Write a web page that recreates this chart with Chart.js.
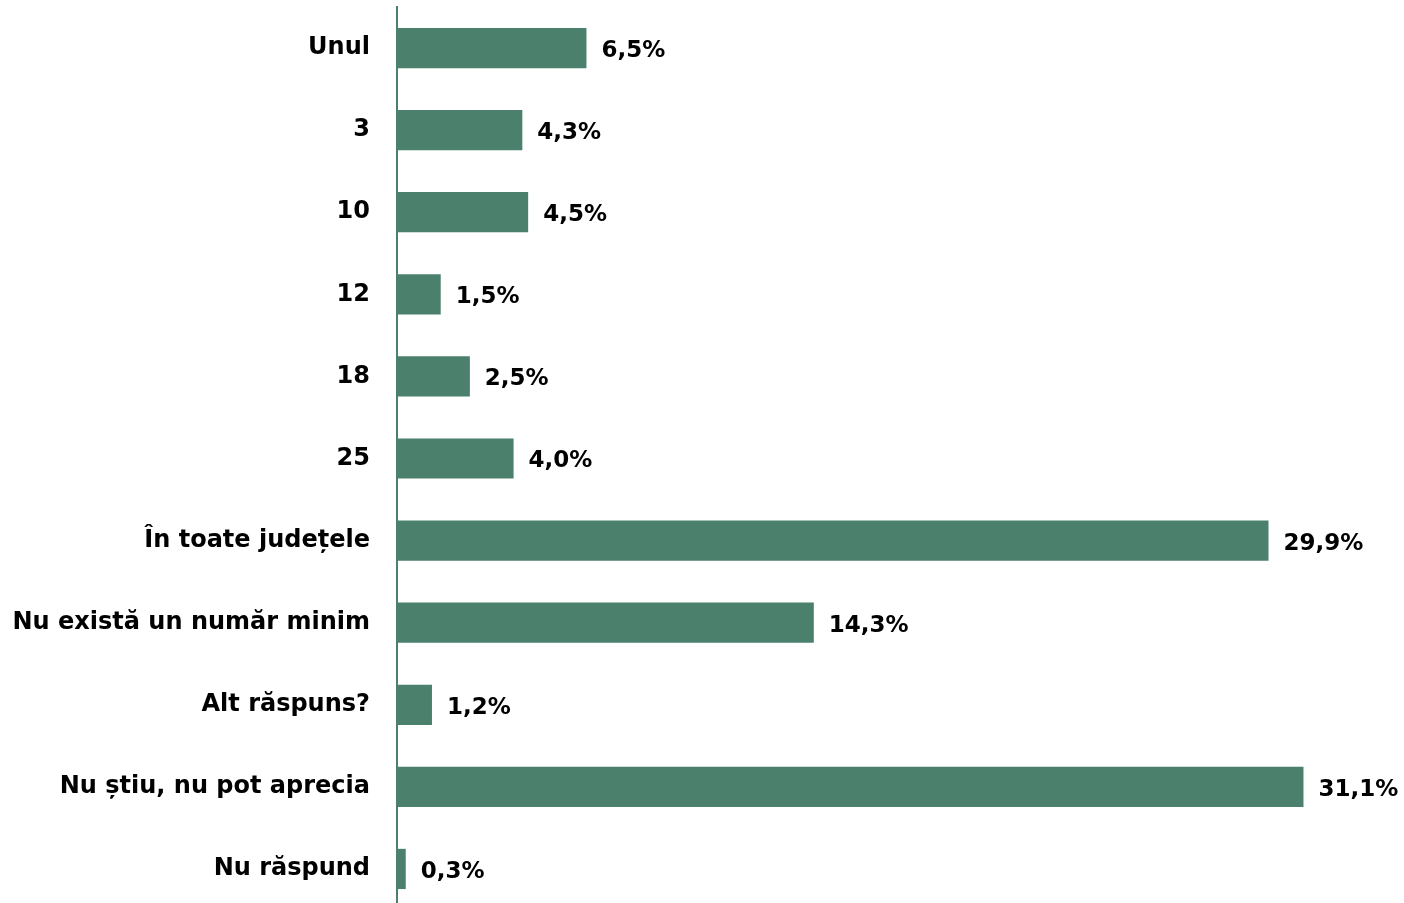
<!DOCTYPE html>
<html>
<head>
<meta charset="utf-8">
<script src="https://cdn.jsdelivr.net/npm/chart.js@4"></script>
<style>
  html, body { margin: 0; padding: 0; background: #fff; overflow: hidden; }
  #wrap { width: 1404px; height: 910px; position: relative; }
</style>
</head>
<body>
<div id="wrap"><canvas id="chart"></canvas></div>
<script>
// categories and values (percent)
const categories = ['Unul', '3', '10', '12', '18', '25', 'În toate județele',
  'Nu există un număr minim', 'Alt răspuns?', 'Nu știu, nu pot aprecia', 'Nu răspund'];
const values = [6.5, 4.3, 4.5, 1.5, 2.5, 4.0, 29.9, 14.3, 1.2, 31.1, 0.3];

const green = '#4a806c';
const fontFamily = '"DejaVu Sans", sans-serif';

// draws "6,5%" style labels at the end of each bar
const valueLabels = {
  id: 'valueLabels',
  afterDatasetsDraw(chart) {
    const ctx = chart.ctx;
    const meta = chart.getDatasetMeta(0);
    ctx.save();
    ctx.font = 'bold 23px ' + fontFamily;
    ctx.fillStyle = '#000';
    ctx.textBaseline = 'middle';
    ctx.textAlign = 'left';
    meta.data.forEach((bar, i) => {
      const txt = values[i].toFixed(1).replace('.', ',') + '%';
      ctx.fillText(txt, bar.x + 15, bar.y + 3);
    });
    ctx.restore();
  }
};

new Chart(document.getElementById('chart'), {
  type: 'bar',
  data: {
    labels: categories,
    datasets: [{
      data: values,
      backgroundColor: green,
      barPercentage: 0.98,
      categoryPercentage: 0.5,
    }],
  },
  options: {
    indexAxis: 'y',
    responsive: true,
    maintainAspectRatio: false,
    animation: false,
    layout: { padding: { top: 7, right: 16, bottom: 0, left: 0 } },
    plugins: { legend: { display: false }, tooltip: { enabled: false } },
    scales: {
      x: {
        min: 0,
        max: 34,
        display: false,
      },
      y: {
        grid: { display: false, drawTicks: false },
        border: { display: true, color: green, width: 2 },
        ticks: {
          color: '#000',
          padding: 27,
          font: { family: fontFamily, size: 24, weight: 'bold' },
        },
        afterFit(scale) {
          scale.width = 397;
          scale.paddingTop = 0;
          scale.paddingBottom = 0;
        },
      },
    },
  },
  plugins: [valueLabels],
});
</script>
</body>
</html>
